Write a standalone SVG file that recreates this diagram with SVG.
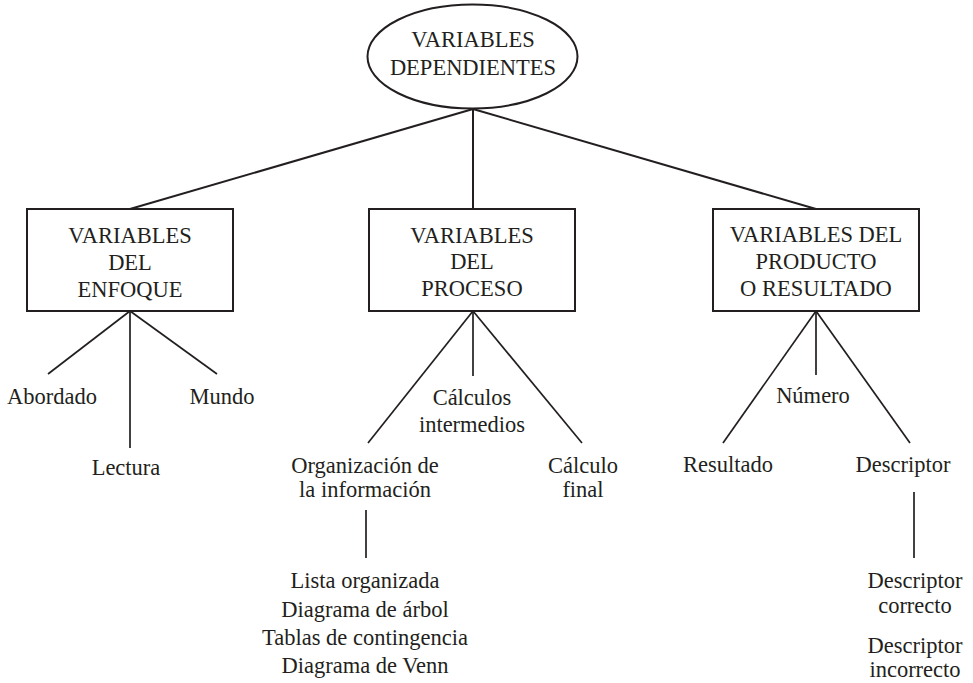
<svg xmlns="http://www.w3.org/2000/svg" width="973" height="683" viewBox="0 0 973 683" font-family="Liberation Serif, DejaVu Serif, serif">
<style>
.shape{fill:#fff;stroke:#231f20;stroke-width:2}
.main line{stroke:#231f20;stroke-width:2}
.sub line{stroke:#231f20;stroke-width:1.7}
.t{font-size:22.5px;fill:#231f20;text-anchor:middle}
</style>
<rect width="973" height="683" fill="#fff"/>
<g id="connectors">
<g class="main">
<line x1="473" y1="109" x2="130" y2="209"/>
<line x1="473" y1="109" x2="473" y2="209"/>
<line x1="473" y1="109" x2="816" y2="209"/>
</g>
<g class="sub">
<line x1="130" y1="311" x2="48" y2="374"/>
<line x1="130" y1="311" x2="130" y2="448"/>
<line x1="130" y1="311" x2="217" y2="374"/>
<line x1="473" y1="311" x2="368" y2="443"/>
<line x1="473" y1="311" x2="473" y2="376"/>
<line x1="473" y1="311" x2="582" y2="443"/>
<line x1="366" y1="510" x2="366" y2="558"/>
<line x1="816" y1="311" x2="723" y2="443"/>
<line x1="816" y1="311" x2="816" y2="375"/>
<line x1="816" y1="311" x2="910" y2="443"/>
<line x1="914" y1="492" x2="914" y2="558"/>
</g>
</g>
<g class="t" font-family="Liberation Serif, DejaVu Serif, serif">
<g id="root">
<ellipse class="shape" cx="472.5" cy="56.5" rx="105" ry="52"/>
<text x="473" y="47">VARIABLES</text>
<text x="473" y="75">DEPENDIENTES</text>
</g>
<g id="enfoque">
<rect class="shape" x="27" y="209" width="206" height="102"/>
<text x="130" y="243">VARIABLES</text>
<text x="130" y="270">DEL</text>
<text x="130" y="297">ENFOQUE</text>
</g>
<g id="proceso">
<rect class="shape" x="369" y="209" width="206" height="102"/>
<text x="472" y="243">VARIABLES</text>
<text x="472" y="269">DEL</text>
<text x="472" y="296">PROCESO</text>
</g>
<g id="producto">
<rect class="shape" x="713" y="209" width="206" height="102"/>
<text x="816" y="242">VARIABLES DEL</text>
<text x="816" y="269">PRODUCTO</text>
<text x="816" y="296">O RESULTADO</text>
</g>
<g id="abordado"><text x="52" y="404">Abordado</text></g>
<g id="lectura"><text x="126" y="475">Lectura</text></g>
<g id="mundo"><text x="222" y="404">Mundo</text></g>
<g id="calculos"><text x="472" y="405">Cálculos</text><text x="472" y="432">intermedios</text></g>
<g id="organizacion"><text x="365" y="473">Organización de</text><text x="365" y="497">la información</text></g>
<g id="calculo-final"><text x="583" y="473">Cálculo</text><text x="583" y="497">final</text></g>
<g id="lista">
<text x="365" y="588">Lista organizada</text>
<text x="365" y="617">Diagrama de árbol</text>
<text x="365" y="645">Tablas de contingencia</text>
<text x="365" y="673">Diagrama de Venn</text>
</g>
<g id="numero"><text x="813" y="403">Número</text></g>
<g id="resultado"><text x="728" y="472">Resultado</text></g>
<g id="descriptor"><text x="903" y="472">Descriptor</text></g>
<g id="descriptor-correcto"><text x="915" y="588">Descriptor</text><text x="915" y="613">correcto</text></g>
<g id="descriptor-incorrecto"><text x="915" y="653">Descriptor</text><text x="915" y="677">incorrecto</text></g>
</g>
</svg>
